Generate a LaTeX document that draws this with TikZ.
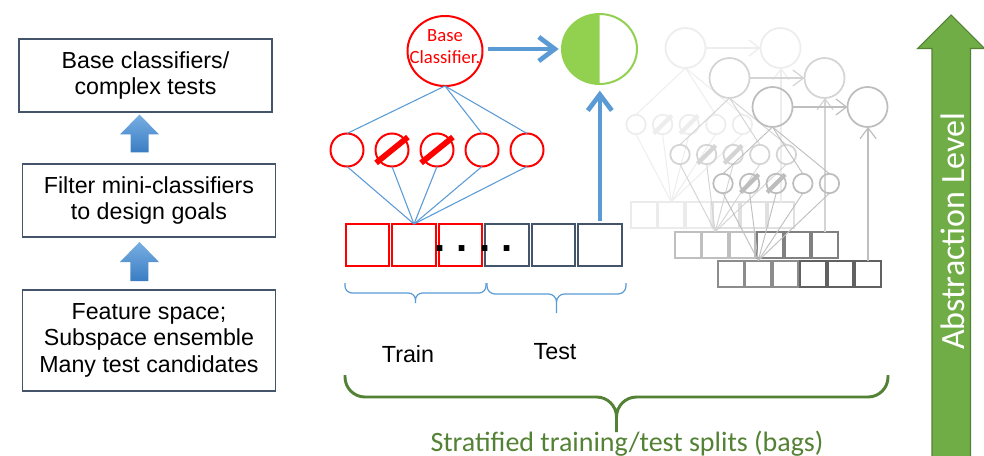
\documentclass[tikz,border=0pt]{standalone}
\usepackage{fontspec}
\setmainfont{Liberation Sans}
\newfontfamily\calibri{Carlito}
\usetikzlibrary{positioning,shapes.geometric,arrows.meta,calc}

\definecolor{redline}{HTML}{FF0000}
\definecolor{slate}{HTML}{44546A}
\definecolor{blueline}{HTML}{5B9BD5}
\definecolor{limegreen}{HTML}{92D050}
\definecolor{bagsgreen}{HTML}{548235}
\definecolor{levelgreen}{HTML}{70AD47}
\definecolor{arrowtop}{HTML}{78AFE2}
\definecolor{arrowbot}{HTML}{3A7CC3}

%one faded bag: #1 prefix, #2 origin, #3 circles, #4 lines, #5 train cells, #6 test cells
\newcommand{\bagcopy}[6]{%
  \begin{scope}[shift={#2}]
    %Nodes
    \node[bagbig, draw=#3]   (#1base) at (55.5,-153) {};
    \node[bagbig, draw=#3]   (#1goal) at (150.5,-153) {};
    \node[bagsmall, draw=#3] (#1m1)   at (6,-76.5) {};
    \node[bagsmall, draw=#3] (#1m2)   [right=5.35pt of #1m1] {};
    \node[bagsmall, draw=#3] (#1m3)   [right=5.35pt of #1m2] {};
    \node[bagsmall, draw=#3] (#1m4)   [right=5.35pt of #1m3] {};
    \node[bagsmall, draw=#3] (#1m5)   [right=5.35pt of #1m4] {};
    \node[bagcell, draw=#5]  (#1r1)   at (13.75,14) {};
    \node[bagcell, draw=#5]  (#1r2)   [right=1.1pt of #1r1] {};
    \node[bagcell, draw=#5]  (#1r3)   [right=1.1pt of #1r2] {};
    \node[bagcell, draw=#6]  (#1r4)   [right=1.1pt of #1r3] {};
    \node[bagcell, draw=#6]  (#1r5)   [right=1.1pt of #1r4] {};
    \node[bagcell, draw=#6]  (#1r6)   [right=1.1pt of #1r5] {};
    \draw[draw=#3, line width=3.2pt, shorten <=-2.2pt, shorten >=-2.2pt] (#1m2.225) -- (#1m2.45);
    \draw[draw=#3, line width=3.2pt, shorten <=-2.2pt, shorten >=-2.2pt] (#1m3.225) -- (#1m3.45);
    %Lines
    \draw[baglink, draw=#4] (#1base.south) -- (#1m1.north);
    \draw[baglink, draw=#4] (#1base.south) -- (#1m4.north);
    \draw[baglink, draw=#4] (#1base.south) -- (#1m5.north);
    \draw[baglink, draw=#4] (#1m1.south) -- (#1r2.north);
    \draw[baglink, draw=#4] (#1m2.south) -- (#1r2.north);
    \draw[baglink, draw=#4] (#1m3.south) -- (#1r2.north);
    \draw[baglink, draw=#4] (#1m4.south) -- (#1r2.north);
    \draw[baglink, draw=#4] (#1m5.south) -- (#1r2.north);
    \draw[bagarrow, draw=#4] (#1base) -- (#1goal);
    \draw[bagarrow, draw=#4] (#1r6.north) -- (#1r6.north |- #1goal.south);
  \end{scope}}

\begin{document}
\begin{tikzpicture}[x=0.75pt, y=-0.75pt,
    stepbox/.style={draw=slate, line width=1.3pt, minimum width=189.75pt, minimum height=54.75pt, align=center, outer sep=0pt, font=\fontsize{17.4}{19.8}\selectfont},
    bignode/.style={ellipse, line width=1.5pt, minimum width=56.25pt, minimum height=52.5pt, inner sep=0pt, outer sep=0pt},
    roundnode/.style={circle, draw=redline, line width=1.5pt, minimum size=24.75pt, inner sep=0pt, outer sep=0pt},
    cell/.style={rectangle, line width=1.5pt, minimum width=32.6pt, minimum height=31.5pt, inner sep=0pt, outer sep=0pt},
    link/.style={draw=blueline, line width=0.8pt},
    bluearrow/.style={draw=blueline, line width=3.5pt, -{Straight Barb[length=12pt,width=18pt]}},
    slash/.style={line width=4.3pt, shorten <=-3pt, shorten >=-3pt},
    bagbig/.style={circle, line width=1.3pt, minimum size=30pt, inner sep=0pt, outer sep=0pt},
    bagsmall/.style={circle, line width=1.3pt, minimum size=14.6pt, inner sep=0pt, outer sep=0pt},
    bagcell/.style={rectangle, line width=1.8pt, minimum width=19.5pt, minimum height=19.9pt, inner sep=0pt, outer sep=0pt},
    baglink/.style={line width=0.7pt},
    bagarrow/.style={line width=0.9pt, -{Straight Barb[length=8pt,width=12pt]}},
    splitlabel/.style={inner sep=0pt, font=\fontsize{17.5}{17.5}\selectfont}]
    \useasboundingbox (0,0) rectangle (984,456);
    \fill[white] (0,0) rectangle (984,456);

    %Steps on the left
    \node[stepbox] (box1) at (145.5,75.5) {Base classifiers/\\complex tests};
    \node[stepbox] (box2) [below=39pt of box1, xshift=2.6pt] {Filter mini-classifiers\\to design goals};
    \node[stepbox, minimum height=75.75pt] (box3) [below=39.5pt of box2] {Feature space;\\Subspace ensemble\\Many test candidates};
    \coordinate (up1) at ($(box1.south)+(-6,2.5)$);
    \coordinate (up2) at ($(box2.south)+(-9.5,5)$);
    \shade[top color=arrowtop, bottom color=arrowbot] (up1) -- ++(19.5,20) -- ++(-10.5,0) -- ++(0,18) -- ++(-18,0) -- ++(0,-18) -- ++(-10.5,0) -- cycle;
    \shade[top color=arrowtop, bottom color=arrowbot] (up2) -- ++(19.5,20) -- ++(-10.5,0) -- ++(0,19) -- ++(-18,0) -- ++(0,-19) -- ++(-10.5,0) -- cycle;

    %Faded bags
    \bagcopy{a}{(630,201)}{black!7}{black!7}{black!8}{black!12}
    \bagcopy{b}{(674,231)}{black!17}{black!17}{black!25}{black!50}
    \bagcopy{c}{(717,260)}{black!26}{black!25}{black!45}{black!62}

    %Nodes
    \node[bignode, draw=redline]   (base)     at (445,51) {};
    \node[font=\calibri\fontsize{14}{16}\selectfont, text=redline, align=center, inner sep=0pt] (basetext) [yshift=3.4pt] at (base) {Base\\Classifier.};
    \node[bignode, draw=limegreen] (goal)     at (599.5,49) {};
    \fill[limegreen] ($(goal.center)+(0,-35)$) arc[start angle=90, end angle=270, x radius=28.125pt, y radius=26.25pt] -- cycle;
    \node[roundnode]               (m1)       at (347,150) {};
    \node[roundnode]               (m2)       [right=9pt of m1] {};
    \node[roundnode]               (m3)       [right=9pt of m2] {};
    \node[roundnode]               (m4)       [right=9pt of m3] {};
    \node[roundnode]               (m5)       [right=9pt of m4] {};
    \draw[redline, slash] (m2.219) -- (m2.39);
    \draw[redline, slash] (m3.219) -- (m3.39);
    \node[cell, draw=redline]      (r1)       at (367.5,245) {};
    \node[cell, draw=redline]      (r2)       [right=2.25pt of r1] {};
    \node[cell, draw=redline]      (r3)       [right=2.25pt of r2] {};
    \node[cell, draw=slate]        (r4)       [right=2.25pt of r3] {};
    \node[cell, draw=slate]        (r5)       [right=2.25pt of r4] {};
    \node[cell, draw=slate]        (r6)       [right=2.25pt of r5] {};
    \node[anchor=base west, inner sep=0pt, font=\fontsize{30}{30}\selectfont\bfseries] (dots) at (434.5,251) {.\ .\ .\ .};

    %Lines
    \draw[link] (base.south) -- (m1.north);
    \draw[link] (base.south) -- (m4.north);
    \draw[link] (base.south) -- (m5.north);
    \draw[link] (m1.south) -- (r2.north);
    \draw[link] (m2.south) -- (r2.north);
    \draw[link] (m3.south) -- (r2.north);
    \draw[link] (m4.south) -- (r2.north);
    \draw[link] (m5.south) -- (r2.north);
    \draw[bluearrow, shorten <=4pt, shorten >=2.5pt] (base.east |- goal.west) -- (goal.west);
    \draw[bluearrow, shorten <=2pt, shorten >=5pt] (r6.north) -- (r6.north |- goal.south);

    %Braces
    \draw[blueline, line width=0.9pt, rounded corners=5.25pt] (345,283) -- (345,293) -- (415.5,293) -- (415.5,303) (486,283) -- (486,293) -- (415.5,293) -- (415.5,303);
    \draw[blueline, line width=0.9pt, rounded corners=6pt] (487,283) -- (487,294) -- (556.5,294) -- (556.5,313) (626,283) -- (626,294) -- (556.5,294) -- (556.5,313);
    \draw[bagsgreen, line width=2.2pt, rounded corners=15pt] (345,375) -- (345,397) -- (616.5,397) -- (616.5,432) (888,375) -- (888,397) -- (616.5,397) -- (616.5,432);
    \node[splitlabel, anchor=base] (train) at (408,362) {Train};
    \node[splitlabel, anchor=base] (test)  at (555,359) {Test};
    \node[anchor=base, inner sep=0pt, text=bagsgreen, font=\calibri\fontsize{21}{21}\selectfont] (bags) at (627,451) {Stratified training/test splits (bags)};

    %Abstraction arrow
    \filldraw[fill=levelgreen, draw=bagsgreen, line width=0.8pt] (951,15) -- (984.5,48.5) -- (970.5,48.5) -- (970.5,462) -- (932,462) -- (932,48.5) -- (917.5,48.5) -- cycle;
    \node[rotate=90, inner sep=0pt, text=white, font=\calibri\fontsize{25.5}{25.5}\selectfont] (level) at (953,231.5) {Abstraction Level};
\end{tikzpicture}
\end{document}
